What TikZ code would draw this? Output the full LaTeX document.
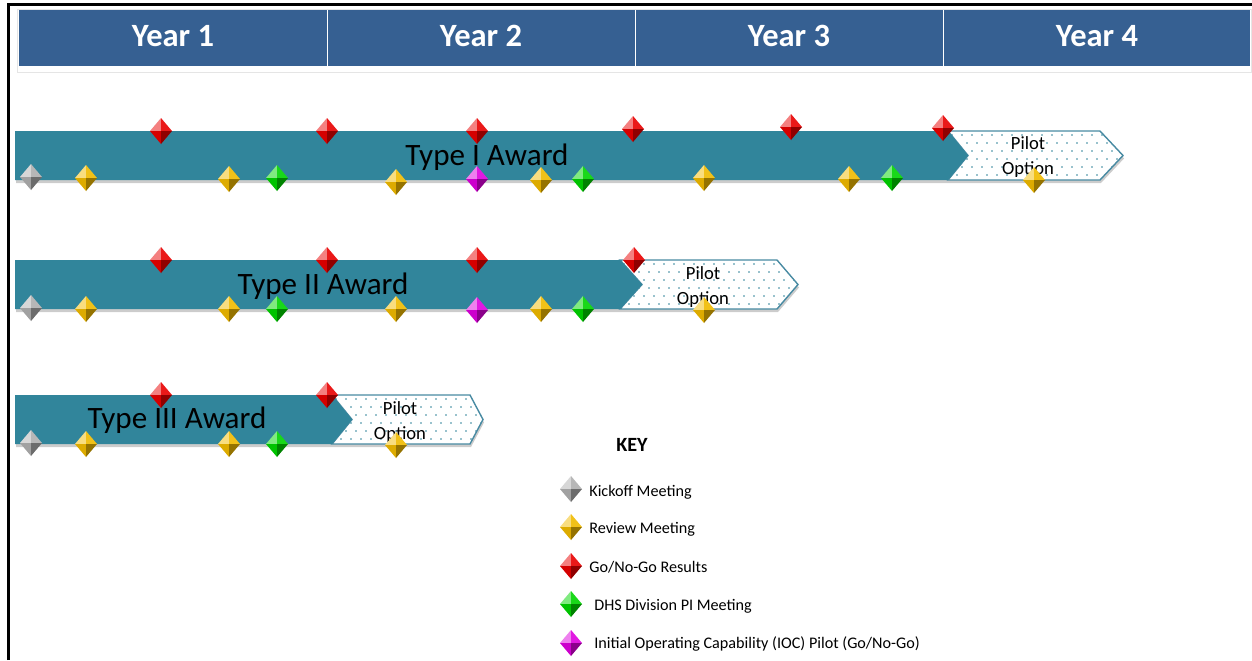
\documentclass[tikz,border=0pt]{standalone}
\usepackage{fontspec}
\setmainfont{Carlito}
\definecolor{hdrblue}{RGB}{54,96,146}
\definecolor{barteal}{RGB}{49,133,155}
\definecolor{pilotedge}{RGB}{72,138,162}
\definecolor{gemgray}{RGB}{175,175,175}
\definecolor{gemgold}{RGB}{240,186,0}
\definecolor{gemred}{RGB}{232,0,0}
\definecolor{gemgreen}{RGB}{0,212,0}
\definecolor{gemmagenta}{RGB}{222,0,222}

\newcommand{\gem}[3]{%
  \begin{scope}[shift={(#1,#2)}]
  \fill[#3!50!white] (0,-13) -- (-11,0) -- (0,0) -- cycle;
  \fill[#3!90!white] (0,-13) -- (11,0) -- (0,0) -- cycle;
  \fill[#3!92!black] (0,13) -- (-11,0) -- (0,0) -- cycle;
  \fill[#3!62!black] (0,13) -- (11,0) -- (0,0) -- cycle;
  \end{scope}}
\newcommand{\pilotdots}[2]{%
  \foreach \r in {0,...,6}{%
    \foreach \c in {0,...,18}{%
      \fill[barteal] ({#1+4+10*\c+5*mod(\r,2)},{#2+4+8*\r}) circle (0.9);}}}

\begin{document}
\begin{tikzpicture}[x=0.02cm,y=-0.02cm]
\useasboundingbox (0,0) rectangle (1252,660);
\draw[line width=1.7pt] (8.5,660) -- (8.5,4.5) -- (1252,4.5);

\draw[gray!20] (17,9) rectangle (1251,72);
\fill[hdrblue] (19,10) rectangle (1250,66);
\draw[white,line width=0.8pt] (327.5,10) -- (327.5,66);
\draw[white,line width=0.8pt] (635.5,10) -- (635.5,66);
\draw[white,line width=0.8pt] (943.5,10) -- (943.5,66);
\node[text=white,font=\fontsize{18.5}{20}\selectfont\bfseries,anchor=base] (yr1) at (173,46) {Year 1};
\node[text=white,font=\fontsize{18.5}{20}\selectfont\bfseries,anchor=base] (yr2) at (481,46) {Year 2};
\node[text=white,font=\fontsize{18.5}{20}\selectfont\bfseries,anchor=base] (yr3) at (789,46) {Year 3};
\node[text=white,font=\fontsize{18.5}{20}\selectfont\bfseries,anchor=base] (yr4) at (1097,46) {Year 4};

\fill[gray!40,shift={(1,3)}] (15,131) -- (1100,131) -- (1123,155.5) -- (1100,180) -- (15,180) -- cycle;
\fill[white] (948,131) -- (1100,131) -- (1123,155.5) -- (1100,180) -- (948,180) -- (968,155.5) -- cycle;
\begin{scope}
\clip (948,131) -- (1100,131) -- (1123,155.5) -- (1100,180) -- (948,180) -- (968,155.5) -- cycle;
\pilotdots{948}{131}
\end{scope}
\draw[pilotedge,line width=0.8pt] (948,131) -- (1100,131) -- (1123,155.5) -- (1100,180) -- (948,180) -- (968,155.5) -- cycle;
\fill[barteal] (15,131) -- (948,131) -- (968,155.5) -- (948,180) -- (15,180) -- cycle;
\node[font=\fontsize{17.7}{20}\selectfont,anchor=base] (awd1) at (487,165) {Type I Award};
\node[font=\fontsize{10.6}{13.7}\selectfont,align=center] (pilot1) at (1028,157) {Pilot\\Option};

\fill[gray!40,shift={(1,3)}] (15,260) -- (777,260) -- (798,284.5) -- (777,309) -- (15,309) -- cycle;
\fill[white] (620,260) -- (777,260) -- (798,284.5) -- (777,309) -- (620,309) -- (642,284.5) -- cycle;
\begin{scope}
\clip (620,260) -- (777,260) -- (798,284.5) -- (777,309) -- (620,309) -- (642,284.5) -- cycle;
\pilotdots{620}{260}
\end{scope}
\draw[pilotedge,line width=0.8pt] (620,260) -- (777,260) -- (798,284.5) -- (777,309) -- (620,309) -- (642,284.5) -- cycle;
\fill[barteal] (15,260) -- (620,260) -- (642,284.5) -- (620,309) -- (15,309) -- cycle;
\node[font=\fontsize{17.7}{20}\selectfont,anchor=base] (awd2) at (323,294) {Type II Award};
\node[font=\fontsize{10.6}{13.7}\selectfont,align=center] (pilot2) at (703,287) {Pilot\\Option};

\fill[gray!40,shift={(1,3)}] (15,395) -- (470,395) -- (483,419.5) -- (470,444) -- (15,444) -- cycle;
\fill[white] (332,395) -- (470,395) -- (483,419.5) -- (470,444) -- (332,444) -- (352,419.5) -- cycle;
\begin{scope}
\clip (332,395) -- (470,395) -- (483,419.5) -- (470,444) -- (332,444) -- (352,419.5) -- cycle;
\pilotdots{332}{395}
\end{scope}
\draw[pilotedge,line width=0.8pt] (332,395) -- (470,395) -- (483,419.5) -- (470,444) -- (332,444) -- (352,419.5) -- cycle;
\fill[barteal] (15,395) -- (332,395) -- (352,419.5) -- (332,444) -- (15,444) -- cycle;
\node[font=\fontsize{17.7}{20}\selectfont,anchor=base] (awd3) at (177,428) {Type III Award};
\node[font=\fontsize{10.6}{13.7}\selectfont,align=center] (pilot3) at (400,422) {Pilot\\Option};

\gem{161}{131}{gemred} \gem{327}{131}{gemred} \gem{477}{131}{gemred}
\gem{633}{129}{gemred} \gem{791}{127}{gemred} \gem{943}{128}{gemred}
\gem{31}{177}{gemgray} \gem{86}{178}{gemgold} \gem{229}{179}{gemgold}
\gem{277}{178}{gemgreen} \gem{396}{182}{gemgold} \gem{477}{179}{gemmagenta}
\gem{541}{180}{gemgold} \gem{583}{179}{gemgreen} \gem{704}{178}{gemgold}
\gem{849}{179}{gemgold} \gem{892}{178}{gemgreen} \gem{1034}{180}{gemgold}

\gem{161}{260}{gemred} \gem{327}{260}{gemred} \gem{477}{260}{gemred}
\gem{634}{260}{gemred}
\gem{31}{308}{gemgray} \gem{86}{309}{gemgold} \gem{229}{309}{gemgold}
\gem{277}{309}{gemgreen} \gem{396}{309}{gemgold} \gem{477}{310}{gemmagenta}
\gem{541}{309}{gemgold} \gem{583}{309}{gemgreen} \gem{704}{310}{gemgold}

\gem{161}{395}{gemred} \gem{327}{395}{gemred}
\gem{31}{443}{gemgray} \gem{86}{444}{gemgold} \gem{229}{444}{gemgold}
\gem{277}{444}{gemgreen} \gem{396}{445}{gemgold}

\node[font=\fontsize{11.5}{13}\selectfont\bfseries,anchor=base] (key) at (632,451) {KEY};
\gem{571}{489}{gemgray}
\gem{571}{527}{gemgold}
\gem{571}{566}{gemred}
\gem{571}{604}{gemgreen}
\gem{571}{643}{gemmagenta}
\node[font=\fontsize{9.2}{11}\selectfont,anchor=base west,inner sep=0] (kickoff) at (589,496) {Kickoff Meeting};
\node[font=\fontsize{9.2}{11}\selectfont,anchor=base west,inner sep=0] (review) at (589,533) {Review Meeting};
\node[font=\fontsize{9.2}{11}\selectfont,anchor=base west,inner sep=0] (gonogo) at (589,572) {Go/No-Go Results};
\node[font=\fontsize{9.2}{11}\selectfont,anchor=base west,inner sep=0] (dhs) at (594,610) {DHS Division PI Meeting};
\node[font=\fontsize{9.2}{11}\selectfont,anchor=base west,inner sep=0] (ioc) at (594,648) {Initial Operating Capability (IOC) Pilot (Go/No-Go)};
\end{tikzpicture}
\end{document}
